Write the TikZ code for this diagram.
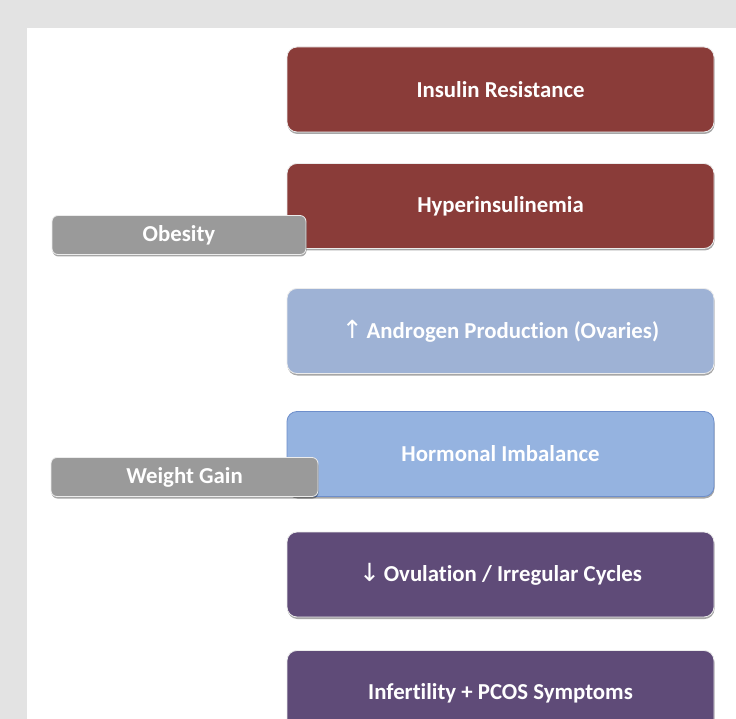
\documentclass[tikz,border=0pt]{standalone}
\usepackage{fontspec}
\setmainfont{Carlito}[Ligatures={NoCommon}]
\newfontfamily\arrowfont{DejaVu Sans}
\usetikzlibrary{shadows}
\definecolor{bgc}{HTML}{E3E3E3}
\definecolor{redc}{HTML}{8A3C39}
\definecolor{andc}{HTML}{9EB2D5}
\definecolor{horc}{HTML}{95B3E0}
\definecolor{horb}{HTML}{6D8ECB}
\definecolor{purc}{HTML}{5F4B78}
\definecolor{grayc}{HTML}{9A9A9A}
\tikzset{
  bigbox/.style={rounded corners=10pt, minimum width=427pt, minimum height=85pt,
    text=white, font=\bfseries\fontsize{22.8}{26}\selectfont, draw=white!85!gray, line width=0.8pt,
    drop shadow={shadow xshift=0.5pt, shadow yshift=-2pt, opacity=0.35, fill=black}},
  sidebox/.style={rounded corners=6pt, fill=grayc, minimum height=39pt,
    text=white, font=\bfseries\fontsize{22.8}{26}\selectfont, draw=white!85!gray, line width=0.8pt,
    drop shadow={shadow xshift=0.5pt, shadow yshift=-2pt, opacity=0.35, fill=black}}
}
\newcommand{\arrglyph}[1]{{\arrowfont\mdseries\fontsize{25}{26}\selectfont #1}}
\begin{document}
\begin{tikzpicture}[x=1pt,y=-1pt]
\useasboundingbox (0,0) rectangle (736,719);
\clip (0,0) rectangle (736,719);
\fill[bgc] (0,0) rectangle (736,719);
\fill[white] (27,28) rectangle (736,719);
\node[bigbox, fill=redc] (ir) at (500.5,89.5) {Insulin Resistance};
\node[bigbox, fill=redc] (hy) at (500.5,206) {Hyperinsulinemia};
\node[sidebox, minimum width=254pt] (ob) at (179,235) {Obesity};
\node[bigbox, fill=andc] (an) at (500.5,331) {\arrglyph{↑}\,Androgen Production (Ovaries)};
\node[bigbox, fill=horc, draw=horb] (ho) at (500.5,454) {Hormonal Imbalance};
\node[sidebox, minimum width=267pt] (wg) at (184.5,477) {Weight Gain};
\node[bigbox, fill=purc] (ov) at (500.5,574.5) {\arrglyph{↓}\,Ovulation / Irregular Cycles};
\node[bigbox, fill=purc] (in) at (500.5,693) {Infertility + PCOS Symptoms};
\end{tikzpicture}
\end{document}
